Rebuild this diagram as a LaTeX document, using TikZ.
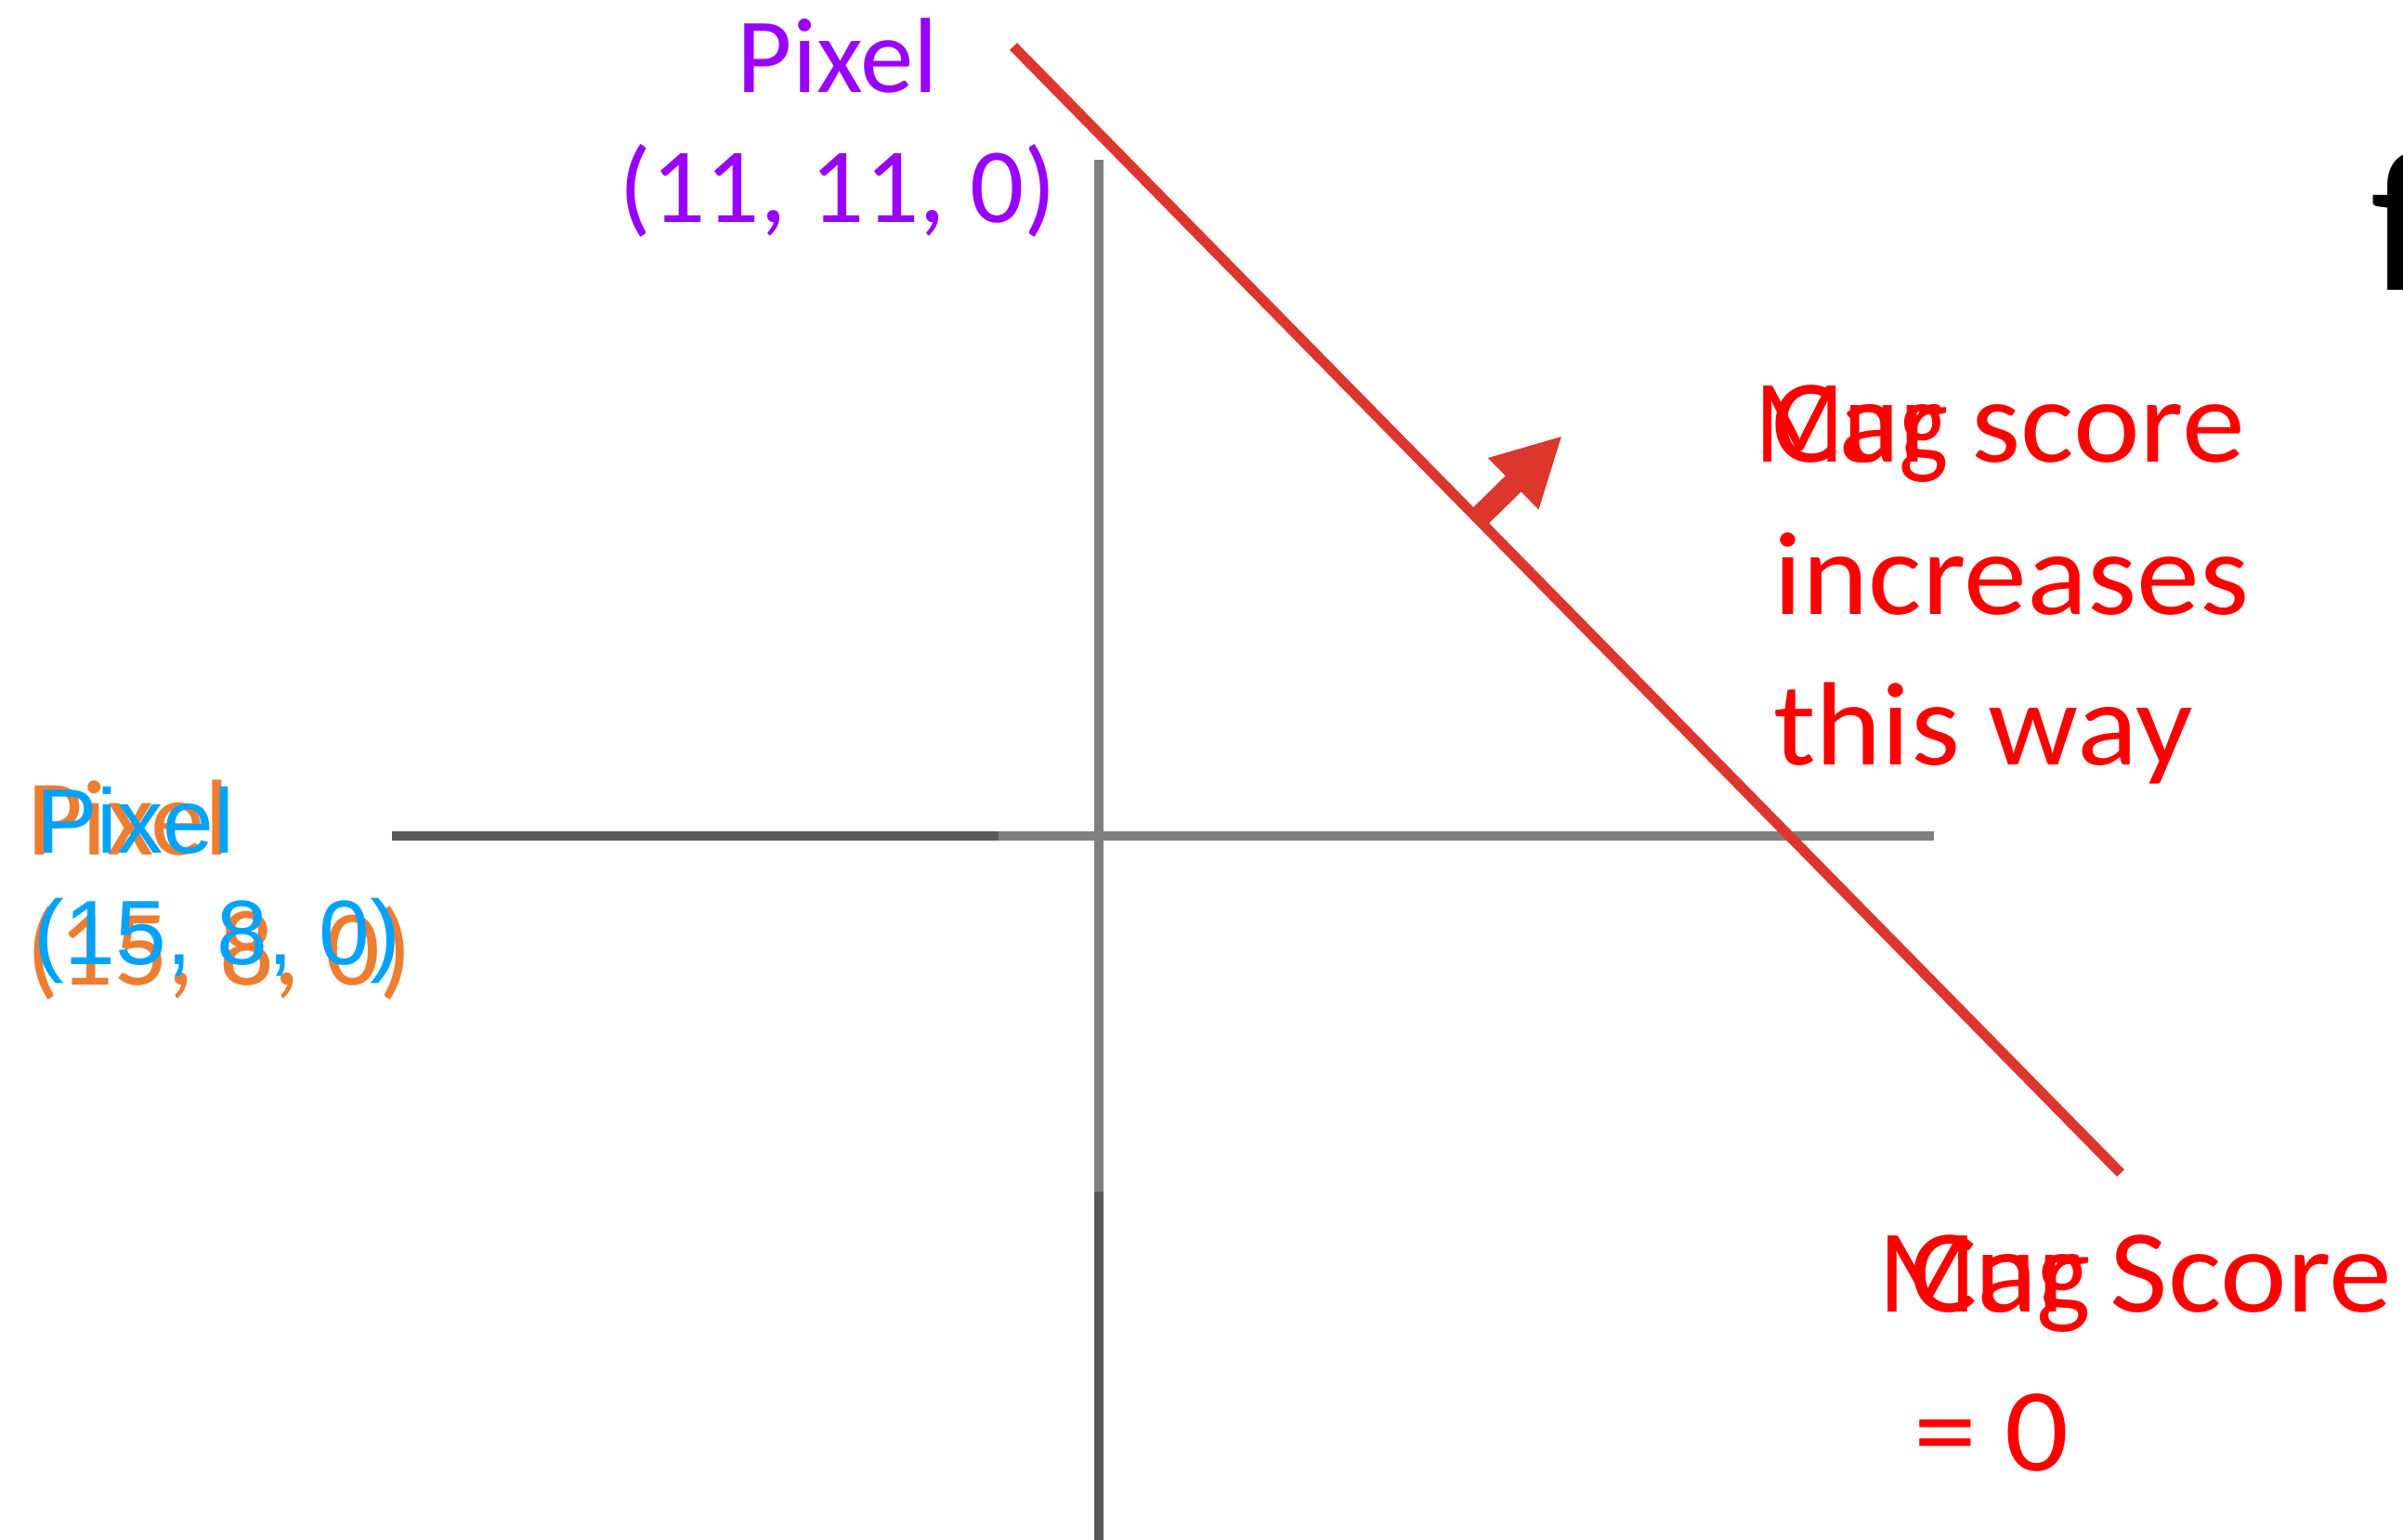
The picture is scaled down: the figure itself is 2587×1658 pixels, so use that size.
\documentclass[tikz,border=0pt]{standalone}
\usepackage{fontspec}
\setmainfont{Carlito}
\newfontfamily\arialfont{Liberation Sans}
\usetikzlibrary{arrows.meta}
\definecolor{axisdark}{RGB}{90,90,90}
\definecolor{axislight}{RGB}{128,128,128}
\definecolor{redline}{RGB}{221,54,45}
\definecolor{redtext}{RGB}{255,0,0}
\definecolor{purpletext}{RGB}{153,0,255}
\definecolor{orangetext}{RGB}{237,125,49}
\definecolor{bluetext}{RGB}{0,162,255}
\newcommand{\redwide}[1]{\scalebox{1.065}[1]{#1}}
\tikzset{
  lbl/.style={inner sep=0pt, outer sep=0pt, anchor=base west},
  redlbl/.style={lbl, text=redtext, font=\fontsize{36.3pt}{43pt}\selectfont},
  purplelbl/.style={inner sep=0pt, anchor=base, text=purpletext, font=\fontsize{32.7pt}{39pt}\selectfont},
  orangelbl/.style={lbl, text=orangetext, font=\fontsize{33pt}{39pt}\selectfont},
  bluelbl/.style={lbl, text=bluetext, font=\arialfont\fontsize{28pt}{34pt}\selectfont},
  axisline/.style={line width=0.1cm},
}
\begin{document}
\begin{tikzpicture}[x=0.01cm,y=-0.01cm]
\useasboundingbox (0,0) rectangle (2587,1658);
% axes
\coordinate (hL) at (422,900);
\coordinate (hM) at (1075,900);
\coordinate (hR) at (2082,900);
\coordinate (vT) at (1183,172);
\coordinate (vM) at (1183,1283);
\coordinate (vB) at (1183,1658);
\draw[axisline, axisdark] (hL) -- (hM);
\draw[axisline, axislight] (hM) -- (hR);
\draw[axisline, axislight] (vT) -- (vM);
\draw[axisline, axisdark] (vM) -- (vB);
% decision line
\coordinate (lT) at (1091,50);
\coordinate (lB) at (2283,1263);
\draw[redline, line width=0.11cm] (lT) -- (lB);
% arrow
\coordinate (aS) at (1590.6,558.7);
\coordinate (aE) at (1682,469);
\draw[redline, line width=0.24cm, -{Triangle[length=0.74cm,width=0.72cm]}] (aS) -- (aE);
% purple label
\node[purplelbl] (p1) at (902,100) {Pixel};
\node[purplelbl] (p2) at (902,240) {(11, 11, 0)};
% orange label
\node[orangelbl] (o1) at (29,920) {Pixel};
\node[orangelbl] (o2) at (28,1060) {(15, 8, 0)};
% blue label
\node[bluelbl] (b1) at (39,918) {Pixel};
\node[bluelbl] (b2) at (37,1038) {(15, 8, 0)};
% red top text
\node[redlbl] (mugA) at (1889,498) {\scalebox{0.884}[1]{Mug}};
\node[redlbl] (carA) at (1907,498) {\redwide{Car score}};
\node[redlbl] (inc) at (1909,662) {\redwide{increases}};
\node[redlbl] (way) at (1909,823) {\redwide{this way}};
% red bottom text
\node[redlbl] (mugB) at (2022,1412) {\scalebox{0.97}[1]{Mug}};
\node[redlbl] (carB) at (2056,1412) {\redwide{Car Score}};
\node[redlbl] (eq) at (2060,1583) {\redwide{= 0}};
% cut-off f
\node[lbl, font=\fontsize{62pt}{70pt}\selectfont] (ff) at (2552,313) {f};
\end{tikzpicture}
\end{document}
